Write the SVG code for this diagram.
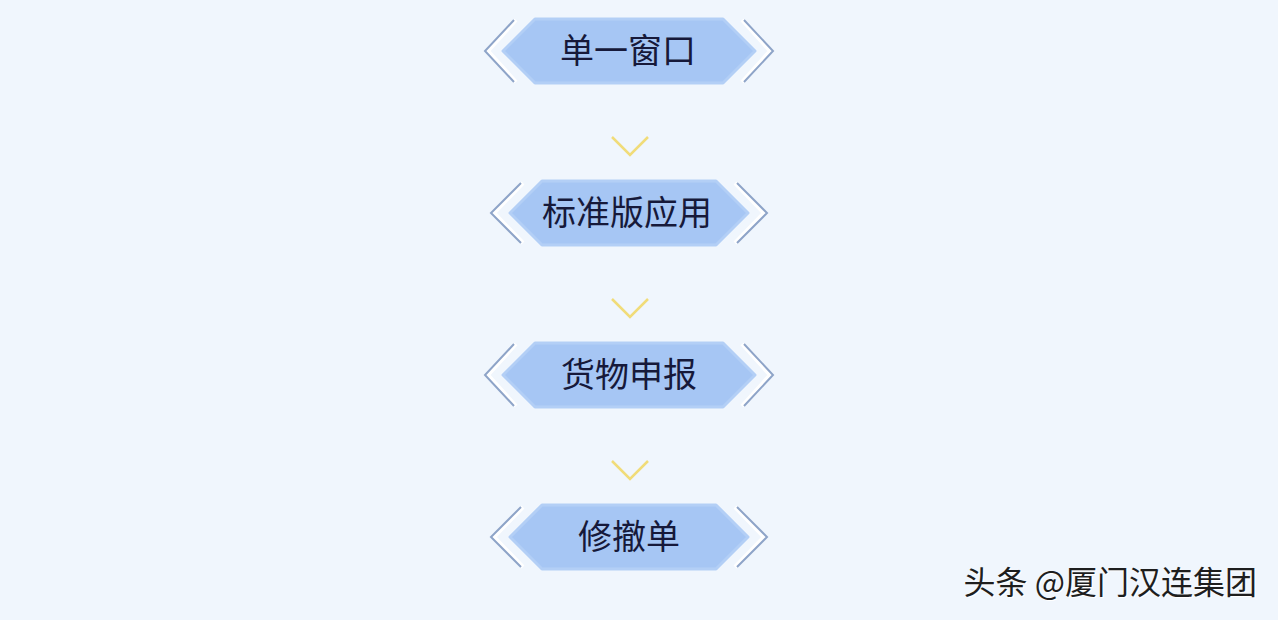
<svg xmlns="http://www.w3.org/2000/svg" width="1278" height="620" viewBox="0 0 1278 620">
<style>
.hex{fill:#a6c6f4;stroke:#b3cff6;stroke-width:3;stroke-linejoin:round}
.chw{fill:none;stroke:#ffffff;stroke-width:4}
.chb{fill:none;stroke:#8ea4c8;stroke-width:2}
.lbl{font-family:"Noto Sans CJK SC","Noto Sans",sans-serif;font-size:34px;fill:#16193a;text-anchor:middle}
.arr{fill:none;stroke:#f1dc79;stroke-width:2.5}
.wm{font-family:"Noto Sans CJK SC","Noto Sans",sans-serif;font-size:32px;fill:#1e1e1e;text-anchor:end}
</style>
<defs>
<g id="wide">
<path class="hex" d="M-126,0 L-94,-32 L94,-32 L126,0 L94,32 L-94,32 Z"/>
<path class="chw" d="M-113,-31 L-141,0 L-113,31"/>
<path class="chb" d="M-115,-31 L-144,0 L-115,31"/>
<path class="chw" d="M113,-31 L141,0 L113,31"/>
<path class="chb" d="M115,-31 L144,0 L115,31"/>
</g>
<g id="narrow">
<path class="hex" d="M-119,0 L-87,-32 L87,-32 L119,0 L87,32 L-87,32 Z"/>
<path class="chw" d="M-106,-30 L-135,0 L-106,30"/>
<path class="chb" d="M-108,-30 L-138,0 L-108,30"/>
<path class="chw" d="M106,-30 L135,0 L106,30"/>
<path class="chb" d="M108,-30 L138,0 L108,30"/>
</g>
</defs>
<rect width="1278" height="620" fill="#f0f6fd"/>
<g id="connectors">
<path class="arr" d="M612,137 L630,155 L648,137"/>
<path class="arr" d="M612,299 L630,317 L648,299"/>
<path class="arr" d="M612,461 L630,479 L648,461"/>
</g>
<g id="node1" transform="translate(629,51)">
<use href="#wide"/>
<text class="lbl" x="-1" y="12">单一窗口</text>
</g>
<g id="node2" transform="translate(629,213)">
<use href="#narrow"/>
<text class="lbl" x="-2" y="12">标准版应用</text>
</g>
<g id="node3" transform="translate(629,375)">
<use href="#wide"/>
<text class="lbl" x="0" y="12">货物申报</text>
</g>
<g id="node4" transform="translate(629,537)">
<use href="#narrow"/>
<text class="lbl" x="0" y="12">修撤单</text>
</g>
<g id="watermark">
<text class="wm" x="1258" y="595" style="fill:#ffffff">头条 @厦门汉连集团</text>
<text class="wm" x="1257" y="594">头条 @厦门汉连集团</text>
</g>
</svg>
